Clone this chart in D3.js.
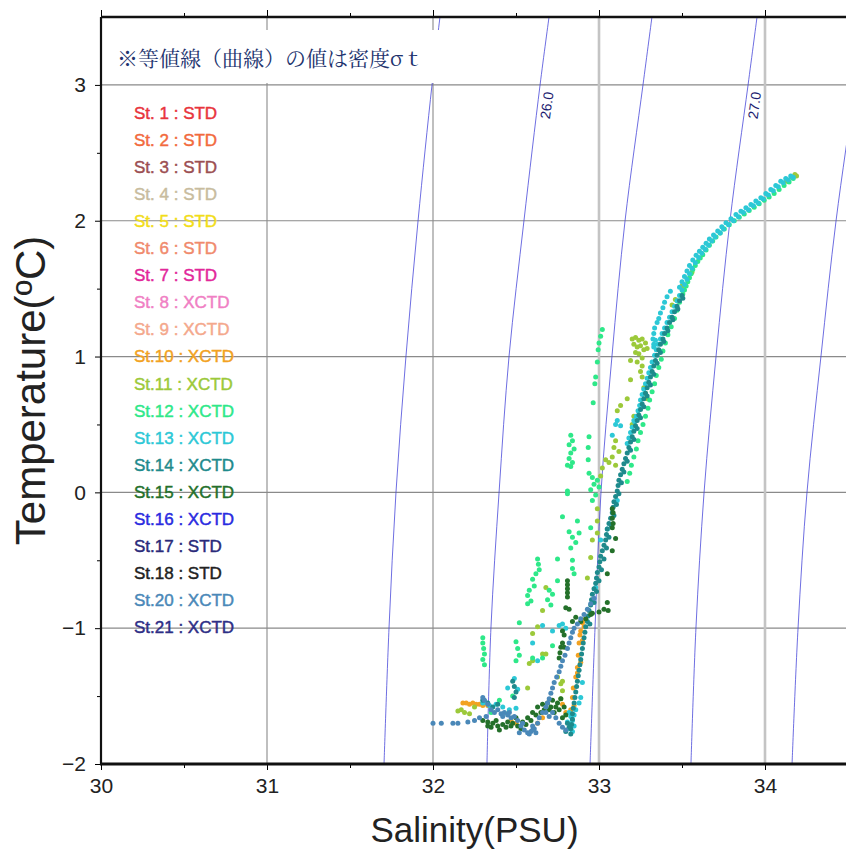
<!DOCTYPE html>
<html lang="ja">
<head>
<meta charset="UTF-8">
<script src="https://d3js.org/d3.v7.min.js"></script>
<title>T-S diagram</title>
<style>
  body { margin: 0; background: #fff; }
  svg { display: block; font-family: "Liberation Sans", Arial, sans-serif; }
</style>
</head>
<body>
<script>
// legend
const stations = ["St. 1","St. 2","St. 3","St. 4","St. 5","St. 6","St. 7","St. 8","St. 9","St.10",
  "St.11","St.12","St.13","St.14","St.15","St.16","St.17","St.18","St.20","St.21"];
const instruments = ["STD","STD","STD","STD","STD","STD","STD","XCTD","XCTD","XCTD",
  "XCTD","XCTD","XCTD","XCTD","XCTD","XCTD","STD","STD","XCTD","XCTD"];
const colors = ["#e8343c","#f26a3d","#9c4f52","#c8bc9e","#f2dd1a","#f08a6c","#e2279a","#f07fc4","#f4a88c","#f2a222",
  "#9cc93a","#2ee889","#2cc8d6","#1e8a8c","#24702a","#2a2ae0","#2a2a7a","#222222","#4a88b8","#2e2e86"];

// axis ticks
const salTicks = [30, 31, 32, 33, 34];
const tempTicks = [-2, -1, 0, 1, 2, 3];

// sigma-t isolines (salinity read at each temperature)
const isoT = [-2, -1, 0, 1, 2, 3, 3.5];
const iso255 = [31.705, 31.735, 31.777, 31.837, 31.910, 31.994, 32.042];
const iso260 = [32.325, 32.349, 32.398, 32.458, 32.548, 32.645, 32.699];
const iso265 = [32.946, 32.976, 33.012, 33.078, 33.157, 33.265, 33.319];
const iso270 = [33.554, 33.584, 33.633, 33.705, 33.789, 33.898, 33.952];
const iso275 = [34.163, 34.199, 34.253, 34.337, 34.428, 34.542, 34.596];
const isoLabels = ["", "26.0", "", "27.0", ""];

// profiles [salinity, temperature]
const st10 = [[32.90,-0.96],[32.89,-1.02],[32.88,-1.11],[32.875,-1.20],[32.87,-1.29],[32.86,-1.36],[32.845,-1.44],
  [32.84,-1.51],[32.85,-1.57],[32.87,-1.33],[32.89,-1.25],[32.90,-1.09],[32.91,-0.99],[32.885,-1.05],[32.91,-0.94],
  [32.83,-1.60],[32.80,-1.62],[32.78,-1.56],[32.66,-1.66],[32.63,-1.70],[32.47,-1.68],[32.50,-1.70],
  [32.18,-1.55],[32.20,-1.55],[32.22,-1.56],[32.24,-1.55],[32.26,-1.56],[32.28,-1.56],[32.30,-1.57],[32.33,-1.57]];

const st11 = [[34.19,2.33],[34.18,2.34],[34.16,2.32],[34.13,2.29],[33.56,1.62],[33.50,1.52],[33.46,1.42],[33.44,1.38],
  [33.20,1.13],[33.22,1.14],[33.24,1.12],[33.26,1.13],[33.28,1.10],[33.21,1.09],[33.23,1.07],[33.25,1.08],[33.27,1.05],
  [33.29,1.06],[33.22,1.03],[33.24,1.02],[33.26,0.99],[33.19,0.97],[33.23,0.96],[33.26,0.93],[33.25,0.89],[33.26,0.85],
  [33.19,0.83],[33.27,0.77],[33.28,0.73],[33.29,0.69],[33.17,0.69],[33.13,0.64],[33.11,0.60],[33.21,0.56],[33.20,0.50],
  [33.10,0.38],[33.09,0.33],[33.12,0.30],[33.08,0.26],[33.06,0.22],[33.10,0.20],[33.04,0.24],[33.02,0.18],[33.01,0.12],
  [32.99,-0.12],[32.99,-0.21],[32.96,-0.35],[32.95,-0.48],[32.93,-0.63],[32.99,-0.30],
  [32.68,-0.70],[32.66,-0.87],[32.63,-0.99],[32.60,-1.04],[32.60,-1.24],[32.66,-1.19],[32.68,-1.19],[32.58,-1.26],
  [32.75,-1.36],[32.77,-1.41],[32.78,-1.46],[32.78,-1.39],[32.77,-1.52],[32.57,-1.44],
  [32.15,-1.61],[32.17,-1.60],[32.19,-1.62],[32.25,-1.58],[32.22,-1.63]];

const st12 = [[34.17,2.31],[34.115,2.26],[34.055,2.20],[33.995,2.15],[33.935,2.10],[33.875,2.05],[33.815,2.00],
  [33.755,1.94],[33.705,1.88],[33.665,1.82],[33.625,1.75],[33.595,1.70],[33.565,1.64],[33.545,1.58],[33.525,1.52],
  [33.505,1.46],[33.485,1.40],[33.47,1.34],[33.455,1.28],[33.435,1.22],[33.415,1.16],[33.40,1.10],[33.385,1.04],
  [33.375,0.98],[33.36,0.92],[33.345,0.86],[33.335,0.80],[33.32,0.74],[33.305,0.68],[33.295,0.62],[33.28,0.56],
  [33.265,0.50],[33.25,0.44],[33.235,0.38],[33.225,0.32],[33.21,0.26],[33.195,0.20],[33.185,0.14],[33.17,0.08],
  [34.145,2.285],[34.085,2.23],[34.025,2.175],[33.965,2.125],[33.905,2.075],[33.845,2.025],[33.785,1.97],[33.73,1.91],
  [33.685,1.85],[33.645,1.785],[33.61,1.725],[33.58,1.67],[33.555,1.61],[33.535,1.55],[33.515,1.49],
  [33.02,1.20],[33.01,1.15],[33.00,1.10],[32.995,1.05],[32.99,0.96],[32.98,0.85],[32.975,0.80],[32.965,0.66],
  [32.94,0.41],[32.935,0.33],[32.935,0.24],
  [32.83,0.42],[32.84,0.38],[32.82,0.35],[32.85,0.32],[32.83,0.29],[32.82,0.25],[32.84,0.22],[32.83,0.19],[32.81,0.20],
  [32.96,0.11],[32.97,0.06],[32.95,0.02],[32.98,-0.02],[32.96,-0.06],[33.00,0.04],[32.99,0.09],[32.94,0.14],
  [32.81,0.01],[32.81,-0.01],[32.78,-0.18],[32.87,-0.21],[32.95,-0.26],[32.82,-0.29],[32.84,-0.33],[32.86,-0.37],
  [32.83,-0.41],[32.88,-0.30],[32.75,-0.49],[32.84,-0.50],[32.84,-0.56],[32.85,-0.60],
  [32.63,-0.49],[32.635,-0.53],[32.64,-0.57],[32.62,-0.60],[32.60,-0.64],[32.61,-0.69],[32.58,-0.72],[32.57,-0.76],
  [32.59,-0.80],[32.57,-0.82],[32.72,-0.75],[32.70,-0.72],[32.69,-0.79],[32.71,-0.83],[32.75,-0.65],
  [32.52,-0.96],[32.50,-1.10],[32.51,-1.15],[32.52,-1.20],[32.50,-1.24],
  [32.30,-1.07],[32.30,-1.11],[32.305,-1.15],[32.31,-1.19],[32.30,-1.23],[32.31,-1.27],
  [32.66,-1.22],[32.60,-1.22],[32.72,-1.13],[32.45,-1.63],[32.48,-1.50],[32.40,-1.53],[32.35,-1.62]];

const st13 = [[34.17,2.32],[34.14,2.30],[34.11,2.28],[34.08,2.25],[34.05,2.22],[34.02,2.19],[33.99,2.16],[33.96,2.13],
  [33.93,2.11],[33.90,2.08],[33.87,2.06],[33.84,2.03],[33.81,2.00],[33.78,1.97],[33.75,1.94],[33.73,1.91],[33.70,1.88],
  [33.68,1.85],[33.66,1.82],[33.64,1.79],[33.62,1.76],[33.60,1.73],[33.58,1.69],[33.56,1.65],[33.545,1.61],[33.53,1.57],
  [33.515,1.53],[33.50,1.49],[33.485,1.45],[33.47,1.41],[33.455,1.37],[33.44,1.33],[33.425,1.29],[33.41,1.25],
  [33.395,1.21],[33.38,1.17],[33.37,1.13],[33.355,1.09],[33.345,1.05],[33.335,1.01],
  [34.155,2.33],[34.125,2.31],[34.095,2.29],[34.065,2.26],[34.035,2.23],[34.005,2.20],[33.975,2.17],[33.945,2.145],
  [33.915,2.12],[33.885,2.095],[33.855,2.07],[33.825,2.045],[33.795,2.015],[33.765,1.985],[33.74,1.955],[33.715,1.925],
  [33.69,1.895],[33.665,1.865],[33.645,1.835],[33.625,1.805],[33.605,1.775],[33.585,1.745],[33.565,1.71],[33.545,1.67],
  [33.53,1.63],[33.515,1.59],[33.50,1.55],[33.485,1.51],
  [33.43,1.48],[33.41,1.44],[33.395,1.40],[33.385,1.36],[33.37,1.32],[33.36,1.28],[33.35,1.25],[33.335,1.21],
  [33.33,1.17],[33.325,1.13],[33.33,1.09],
  [33.32,0.96],[33.31,0.92],[33.30,0.88],[33.29,0.84],[33.28,0.80],[33.27,0.76],[33.26,0.72],[33.25,0.68],
  [33.245,0.64],[33.235,0.60],[33.225,0.56],[33.215,0.52],[33.20,0.48],[33.19,0.44],[33.18,0.40],[33.17,0.36],
  [33.21,0.53],[33.11,0.53],[33.10,0.50],[33.08,0.42],[33.13,0.49],[33.34,1.12],[33.33,1.07],
  [33.11,-0.06],[33.05,-0.27],[33.01,-0.35],[32.98,-0.70],[32.78,-0.97],[32.80,-1.00],[32.76,-0.98],[32.72,-1.02],
  [32.66,-0.98],[32.60,-1.11],[32.63,-1.24],[32.49,-1.37],[32.45,-1.44],[32.51,-1.45],
  [32.30,-1.55],[32.34,-1.57],[32.38,-1.56],[32.42,-1.58],[32.46,-1.60],[32.50,-1.59],
  [32.89,-1.51],[32.90,-1.40],[32.88,-1.55],
  [32.82,-1.62],[32.83,-1.65],[32.84,-1.68],[32.83,-1.71],[32.82,-1.74],[32.84,-1.76],[32.85,-1.72],[32.81,-1.69],
  [32.85,-1.64],[32.86,-1.60]];

const st14 = [[33.50,1.45],[33.485,1.41],[33.47,1.37],[33.455,1.33],[33.44,1.29],[33.425,1.25],[33.41,1.21],[33.395,1.17],
  [33.385,1.13],[33.37,1.09],[33.36,1.05],[33.35,1.01],[33.34,0.97],[33.33,0.93],[33.32,0.89],[33.31,0.85],[33.30,0.81],
  [33.29,0.77],[33.28,0.73],[33.27,0.69],[33.26,0.65],[33.25,0.61],[33.24,0.57],[33.23,0.53],[33.22,0.49],[33.21,0.45],
  [33.20,0.41],[33.19,0.37],[33.18,0.33],[33.17,0.29],[33.16,0.25],[33.15,0.21],[33.14,0.17],[33.13,0.13],[33.12,0.09],
  [33.115,0.05],[33.11,0.01],[33.10,-0.03],[33.09,-0.07],[33.085,-0.11],[33.08,-0.15],[33.07,-0.19],[33.06,-0.23],
  [33.05,-0.27],[33.045,-0.31],[33.04,-0.35],[33.03,-0.39],[33.02,-0.43],[33.01,-0.47],[33.005,-0.51],[33.0,-0.55],
  [32.99,-0.59],[32.985,-0.63],[32.98,-0.67],[32.97,-0.71],[32.96,-0.75],[32.955,-0.79],[32.95,-0.83],[32.94,-0.87],
  [32.935,-0.91],[32.93,-0.95],[32.92,-0.99],[32.915,-1.03],[32.91,-1.07],[32.905,-1.11],[32.90,-1.15],[32.895,-1.19],
  [32.89,-1.23],[32.885,-1.27],[32.88,-1.31],[32.875,-1.35],[32.87,-1.39],[32.865,-1.43],[32.86,-1.47],[32.855,-1.51],
  [32.85,-1.55],[32.845,-1.59],[32.84,-1.63],[32.84,-1.67],[32.835,-1.71],[32.83,-1.74],
  [33.505,1.43],[33.475,1.35],[33.445,1.27],[33.415,1.19],[33.39,1.11],[33.37,1.03],[33.35,0.95],[33.33,0.87],
  [33.31,0.79],[33.29,0.71],[33.27,0.63],[33.25,0.55],[33.23,0.47],[33.21,0.39],[33.19,0.31],[33.17,0.23],[33.15,0.15],
  [33.135,0.07],[33.12,-0.01],[33.105,-0.09],[33.09,-0.17],[33.075,-0.25],[33.06,-0.33],[33.045,-0.41],[33.03,-0.49],
  [33.015,-0.57],[33.0,-0.65],[32.985,-0.73],[32.97,-0.81],[32.955,-0.89],[32.945,-0.97],
  [32.48,-1.39],[32.49,-1.43],[32.50,-1.47],[32.49,-1.51],[32.30,-1.53],[32.33,-1.55],[32.36,-1.58],[32.39,-1.56],
  [32.81,-1.70],[32.82,-1.73],[32.80,-1.76],[32.83,-1.78]];

const st15 = [[33.08,-0.12],[33.085,-0.15],[33.08,-0.19],[33.085,-0.23],[33.08,-0.26],[33.10,-0.34],[33.08,-0.43],
  [33.05,-0.60],[33.05,-0.81],[33.055,-0.87],[33.03,-0.86],[33.00,-0.88],[32.96,-0.89],[32.95,-0.90],[32.92,-0.93],
  [32.89,-0.95],[32.81,-0.65],[32.81,-0.68],[32.81,-0.71],[32.81,-0.74],[32.81,-0.77],[32.80,-0.85],[32.82,-0.86],
  [32.78,-1.02],[32.79,-1.05],[32.78,-1.11],[32.77,-1.14],[32.765,-1.18],[32.76,-1.22],[32.79,-1.14],[32.84,-0.95],
  [32.86,-0.92],
  [32.30,-1.68],[32.33,-1.69],[32.36,-1.70],[32.39,-1.72],[32.42,-1.71],[32.45,-1.69],[32.48,-1.70],[32.51,-1.72],
  [32.54,-1.69],[32.57,-1.66],[32.60,-1.62],[32.63,-1.58],[32.66,-1.56],[32.69,-1.55],[32.71,-1.58],[32.73,-1.62],
  [32.75,-1.55],[32.77,-1.52],[32.79,-1.58],[32.80,-1.64],[32.72,-1.53],[32.67,-1.60],[32.62,-1.64],[32.44,-1.73],
  [32.40,-1.75],[32.35,-1.73],
  [32.50,-1.66],[32.53,-1.74],[32.56,-1.71],[32.59,-1.68],[32.65,-1.62],[32.74,-1.58],[32.76,-1.60],[32.78,-1.66],
  [32.70,-1.60],[32.47,-1.72],[32.38,-1.68],[32.33,-1.72]];

const st20 = [[32.97,-0.78],[32.95,-0.82],[32.93,-0.86],[32.91,-0.90],[32.89,-0.93],[32.87,-0.97],[32.85,-1.00],
  [32.84,-1.03],[32.83,-1.07],[32.82,-1.11],[32.81,-1.15],[32.795,-1.20],[32.78,-1.24],[32.77,-1.28],[32.76,-1.32],
  [32.745,-1.36],[32.73,-1.40],[32.72,-1.44],[32.71,-1.48],[32.70,-1.52],[32.69,-1.55],[32.68,-1.58],
  [32.66,-1.62],[32.64,-1.66],[32.63,-1.70],[32.61,-1.74],[32.59,-1.76],[32.57,-1.77],[32.55,-1.75],[32.53,-1.72],
  [32.51,-1.68],[32.49,-1.65],[32.47,-1.66],[32.45,-1.64],[32.43,-1.62],[32.41,-1.63],[32.39,-1.60],[32.37,-1.62],
  [32.35,-1.60],[32.33,-1.56],[32.31,-1.53],[32.30,-1.51],[32.72,-1.62],[32.74,-1.66],[32.76,-1.70],[32.78,-1.73],
  [32.62,-1.77],[32.60,-1.72],
  [32.52,-1.77],[32.58,-1.78],[32.60,-1.75],[32.54,-1.70],[32.46,-1.62],[32.42,-1.65],[32.70,-1.65],[32.80,-1.75],
  [32.68,-1.62],
  [32.00,-1.70],[32.05,-1.70],[32.12,-1.70],[32.15,-1.70],[32.21,-1.69],[32.25,-1.68],[32.28,-1.66],[32.32,-1.65]];

const profiles = [["St.10", st10], ["St.11", st11], ["St.12", st12], ["St.13", st13],
  ["St.14", st14], ["St.15", st15], ["St.20", st20]];

const width = 846, height = 852;
const margin = {top: 17, right: -2, bottom: 88, left: 101};

const x = d3.scaleLinear().domain([30, 34.5]).range([margin.left, width - margin.right]);
const y = d3.scaleLinear().domain([-2, 3.5]).range([height - margin.bottom, margin.top]);

const svg = d3.select("body").append("svg")
  .attr("width", width).attr("height", height);

svg.append("clipPath").attr("id", "plot")
  .append("rect")
  .attr("x", x(30)).attr("y", y(3.5))
  .attr("width", x(34.5) - x(30)).attr("height", y(-2) - y(3.5));

// grid
const grid = svg.append("g");
grid.selectAll(".hg").data(tempTicks.slice(1)).enter().append("line")
  .attr("x1", x(30)).attr("x2", x(34.5))
  .attr("y1", d => y(d)).attr("y2", d => y(d))
  .attr("stroke", "#8a8a8a").attr("stroke-width", 1.2);
grid.selectAll(".vg").data(salTicks.slice(1)).enter().append("line")
  .attr("x1", d => x(d)).attr("x2", d => x(d))
  .attr("y1", y(3.5)).attr("y2", y(-2))
  .attr("stroke", d => d >= 33 ? "#c4c4c4" : "#8a8a8a")
  .attr("stroke-width", d => d >= 33 ? 2.6 : 1.1);

// isolines
const isoData = [iso255, iso260, iso265, iso270, iso275];
const isoLine = d3.line()
  .x(d => x(d[0])).y(d => y(d[1]))
  .curve(d3.curveCatmullRom);
const isoG = svg.append("g").attr("clip-path", "url(#plot)");
isoG.selectAll("path").data(isoData).enter().append("path")
  .attr("d", s => isoLine(s.map((v, i) => [v, isoT[i]])))
  .attr("fill", "none")
  .attr("stroke", "#4040d8")
  .attr("stroke-width", 0.9)
  .attr("stroke-opacity", 0.85);

// isoline labels near T = 2.85
isoData.forEach((s, i) => {
  if (!isoLabels[i]) return;
  const tl = 2.85;
  const sl = s[4] + (s[5] - s[4]) * (tl - isoT[4]) / (isoT[5] - isoT[4]);
  const px = x(sl) + 9, py = y(tl);
  svg.append("text")
    .attr("transform", `translate(${px},${py}) rotate(-82)`)
    .attr("text-anchor", "middle")
    .attr("dominant-baseline", "central")
    .attr("font-size", 14)
    .attr("fill", "#1c1c70")
    .text(isoLabels[i]);
});

// points
const pts = svg.append("g").attr("clip-path", "url(#plot)");
profiles.forEach(([name, data]) => {
  const c = colors[stations.indexOf(name)];
  pts.append("g").selectAll("circle").data(data).enter().append("circle")
    .attr("cx", d => x(d[0]))
    .attr("cy", d => y(d[1]))
    .attr("r", 2.5)
    .attr("fill", c);
});

// legend
svg.append("g").selectAll("text").data(stations).enter().append("text")
  .attr("x", 134)
  .attr("y", (d, i) => 113 + i * 27.1)
  .attr("dominant-baseline", "central")
  .attr("font-size", 17)
  .attr("fill", (d, i) => colors[i])
  .attr("stroke", (d, i) => colors[i])
  .attr("stroke-width", 0.45)
  .text((d, i) => `${d} : ${instruments[i]}`);

// note box
const note = svg.append("g");
const noteBox = note.append("rect")
  .attr("x", x(30) + 1).attr("y", 30)
  .attr("height", 53)
  .attr("fill", "#fff");
const noteText = note.append("text")
  .attr("x", 117).attr("y", 57)
  .attr("dominant-baseline", "central")
  .attr("font-family", "'Noto Serif CJK JP','Noto Sans CJK JP',serif")
  .attr("font-size", 21)
  .attr("fill", "#22336e")
  .text("※等値線（曲線）の値は密度σｔ");
noteBox.attr("width", 117 + noteText.node().getComputedTextLength() + 14 - x(30));

// axes
const tickFont = g => g.selectAll("text")
  .attr("font-size", 21).attr("fill", "#222")
  .attr("font-family", "'Liberation Sans', Arial, sans-serif");

const xAxis = svg.append("g")
  .attr("transform", `translate(0,${y(-2)})`)
  .call(d3.axisBottom(x).tickValues(salTicks).tickFormat(d3.format("d"))
    .tickSize(6).tickPadding(8).tickSizeOuter(0))
  .call(tickFont);
xAxis.select(".domain").remove();

svg.append("g")
  .attr("transform", `translate(0,${y(-2)})`)
  .call(d3.axisBottom(x).tickValues(d3.range(30.5, 34.5, 1)).tickSize(4).tickFormat("").tickSizeOuter(0))
  .select(".domain").remove();

svg.append("g")
  .attr("transform", `translate(0,${y(3.5)})`)
  .call(d3.axisTop(x).tickValues(salTicks).tickSize(7).tickFormat("").tickSizeOuter(0))
  .select(".domain").remove();
svg.append("g")
  .attr("transform", `translate(0,${y(3.5)})`)
  .call(d3.axisTop(x).tickValues(d3.range(30.5, 34.5, 1)).tickSize(4).tickFormat("").tickSizeOuter(0))
  .select(".domain").remove();

const yAxis = svg.append("g")
  .attr("transform", `translate(${x(30)},0)`)
  .call(d3.axisLeft(y).tickValues(tempTicks).tickFormat(d3.format("d"))
    .tickSize(6).tickPadding(9).tickSizeOuter(0))
  .call(tickFont);
yAxis.select(".domain").remove();
svg.append("g")
  .attr("transform", `translate(${x(30)},0)`)
  .call(d3.axisLeft(y).tickValues(d3.range(-1.5, 3.5, 1)).tickSize(4).tickFormat("").tickSizeOuter(0))
  .select(".domain").remove();

// frame
svg.append("line").attr("x1", x(30)).attr("x2", x(34.5)).attr("y1", y(3.5)).attr("y2", y(3.5))
  .attr("stroke", "#111").attr("stroke-width", 2.4);
svg.append("line").attr("x1", x(30) - 1).attr("x2", x(34.5)).attr("y1", y(-2)).attr("y2", y(-2))
  .attr("stroke", "#111").attr("stroke-width", 3);
svg.append("line").attr("x1", x(30)).attr("x2", x(30)).attr("y1", y(3.5)).attr("y2", y(-2))
  .attr("stroke", "#111").attr("stroke-width", 2.2);

// axis titles
svg.append("text")
  .attr("x", (x(30) + x(34.5)) / 2).attr("y", 842)
  .attr("text-anchor", "middle")
  .attr("font-size", 35).attr("fill", "#222")
  .text("Salinity(PSU)");
svg.append("text")
  .attr("transform", `translate(45,${(y(3.5) + y(-2)) / 2}) rotate(-90)`)
  .attr("text-anchor", "middle")
  .attr("font-size", 42).attr("fill", "#222")
  .text("Temperature(ºC)");
</script>
</body>
</html>
